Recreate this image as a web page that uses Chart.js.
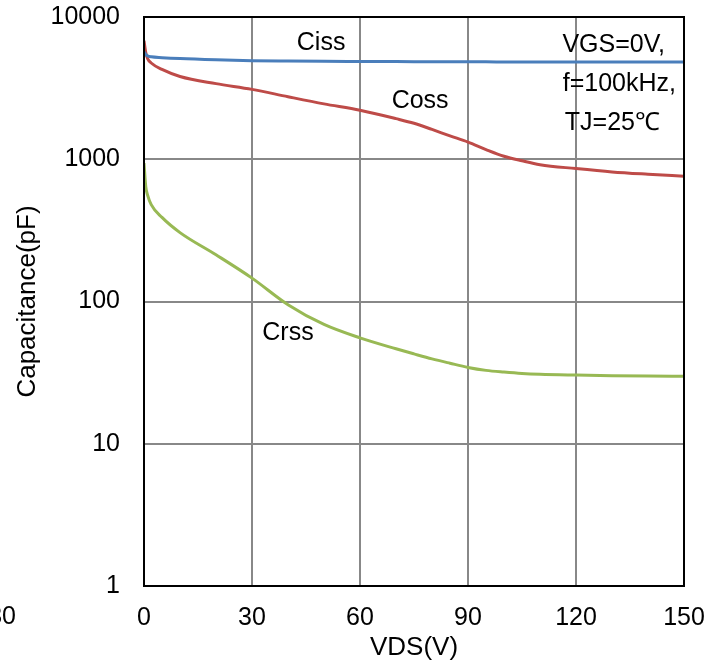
<!DOCTYPE html>
<html>
<head>
<meta charset="utf-8">
<script src="https://cdn.jsdelivr.net/npm/chart.js@4"></script>
<style>
    body { margin: 0; background: #fff; }
    #wrap { width: 724px; height: 664px; }
</style>
</head>
<body>
<div id="wrap"><canvas id="cap-chart"></canvas></div>
<script>
// VDS points (V) shared by all three curves
const vds = [0, 0.5, 1, 2, 5, 10, 20, 30, 40, 50, 60, 70, 75, 80, 85, 90, 95, 100, 105, 110, 120, 130, 140, 150];
const ciss = [5700, 5450, 5330, 5250, 5180, 5100, 5000, 4930, 4900, 4880, 4870, 4860, 4855, 4850, 4845, 4840, 4838, 4835, 4832, 4830, 4828, 4825, 4822, 4820];
const coss = [6800, 5600, 5100, 4750, 4280, 3820, 3400, 3100, 2750, 2450, 2210, 1930, 1790, 1620, 1460, 1320, 1170, 1050, 975, 915, 860, 815, 785, 760];
const crss = [940, 640, 560, 480, 390, 305, 213, 146, 95, 69, 55.5, 46.5, 42.8, 39.5, 36.8, 34.4, 32.8, 31.9, 31.2, 30.8, 30.4, 30.1, 29.9, 29.8];

const yTicks = [1, 10, 100, 1000, 10000];
const xTicks = [0, 30, 60, 90, 120, 150];

const seriesNames = ['Ciss', 'Coss', 'Crss'];
const seriesColors = ['#4A7EBB', '#BE4B48', '#98B954'];

const font = { family: "'Liberation Sans', Arial, sans-serif", size: 25 };
const titleFont = { family: font.family, size: 26 };

function toPoints(ys) {
    return vds.map((x, i) => ({ x: x, y: ys[i] }));
}

// curve labels and test conditions drawn as text on the plot
const textPlugin = {
    id: 'texts',
    afterDraw(chart) {
        const { ctx, chartArea, scales } = chart;
        const xs = scales.x, ys = scales.y;
        ctx.save();
        // frame around the plot area
        ctx.strokeStyle = '#000';
        ctx.lineWidth = 2;
        ctx.strokeRect(chartArea.left, chartArea.top, chartArea.right - chartArea.left, chartArea.bottom - chartArea.top);

        ctx.fillStyle = '#000';
        ctx.font = font.size + 'px ' + font.family;
        ctx.textBaseline = 'middle';
        ctx.textAlign = 'center';
        ctx.fillText('Ciss', xs.getPixelForValue(49.2), ys.getPixelForValue(6560));
        ctx.fillText('Coss', xs.getPixelForValue(76.7), ys.getPixelForValue(2560));
        ctx.fillText('Crss', xs.getPixelForValue(40), ys.getPixelForValue(59.6));

        ctx.textAlign = 'right';
        ctx.fillText('VGS=0V,', 665, 45);
        ctx.fillText('f=100kHz,', 676, 84);
        ctx.fillText('TJ=25\u2103', 660, 123);

        // leftover tick label clipped by the left edge
        ctx.fillText('-30', 16, 617);
        ctx.restore();
    }
};

new Chart(document.getElementById('cap-chart'), {
    type: 'line',
    data: {
        datasets: [ciss, coss, crss].map((ys, i) => ({
            label: seriesNames[i],
            data: toPoints(ys),
            borderColor: seriesColors[i],
            borderWidth: 3,
            pointRadius: 0,
            cubicInterpolationMode: 'monotone',
            fill: false
        }))
    },
    options: {
        responsive: true,
        maintainAspectRatio: false,
        animation: false,
        layout: { padding: { top: 17, right: 40, left: 0, bottom: 0 } },
        plugins: {
            legend: { display: false },
            tooltip: { enabled: false }
        },
        scales: {
            x: {
                type: 'linear',
                min: 0,
                max: 150,
                afterBuildTicks: s => { s.ticks = xTicks.map(v => ({ value: v })); },
                afterFit: s => { s.height = 78; s.paddingLeft = 0; s.paddingRight = 0; },
                grid: { color: '#888', lineWidth: 2, drawTicks: false },
                border: { color: '#000', width: 2 },
                ticks: { font: font, color: '#000', padding: 17 },
                title: { display: true, text: 'VDS(V)', font: titleFont, color: '#000', padding: { top: 0, bottom: 1 } }
            },
            y: {
                type: 'logarithmic',
                min: 1,
                max: 10000,
                afterBuildTicks: s => { s.ticks = yTicks.map(v => ({ value: v })); },
                afterFit: s => { s.width = 144; s.paddingTop = 0; s.paddingBottom = 0; },
                grid: { color: '#888', lineWidth: 2, drawTicks: false },
                border: { color: '#000', width: 2 },
                ticks: { font: font, color: '#000', padding: 24, callback: v => String(v) },
                title: { display: true, text: 'Capacitance(pF)', font: titleFont, color: '#000', padding: { top: 12, bottom: 0 } }
            }
        }
    },
    plugins: [textPlugin]
});
</script>
</body>
</html>
